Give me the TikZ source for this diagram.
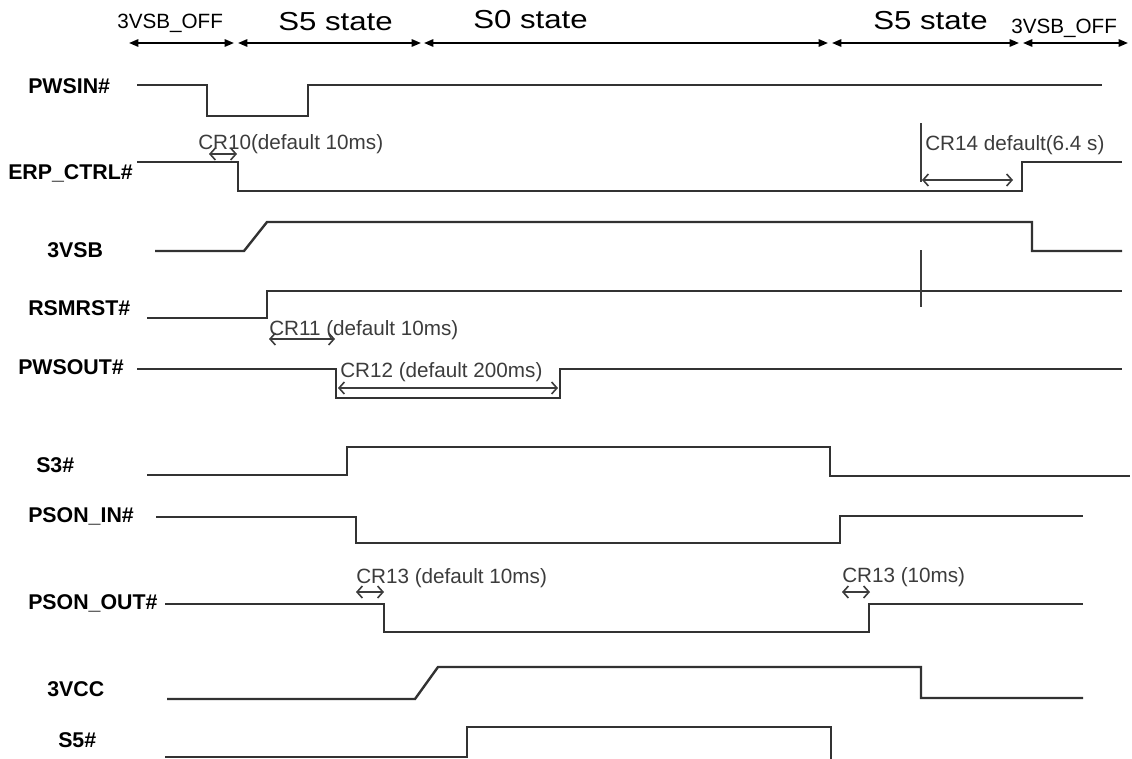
\documentclass[tikz,border=0pt]{standalone}
\usepackage{fontspec}
\setmainfont{Liberation Sans}
\usetikzlibrary{arrows.meta}
\definecolor{sig}{RGB}{50,50,50}
\definecolor{ann}{RGB}{60,60,60}
\begin{document}
\begin{tikzpicture}[x=0.75pt,y=-0.75pt,
  lbl/.style={font=\fontsize{16}{18}\selectfont\bfseries, inner sep=0, anchor=base west},
  hdr/.style={font=\fontsize{15.5}{17}\selectfont, inner sep=0, anchor=base west},
  statelbl/.style={font=\fontsize{19.5}{21}\selectfont, inner sep=0, anchor=base west},
  cr/.style={font=\fontsize{15.5}{17}\selectfont, text=ann, inner sep=0, anchor=base west},
  wave/.style={draw=sig, line width=1.8pt, line join=miter},
  span/.style={draw=black, line width=1.4pt, {Triangle[length=7pt,width=5.5pt]}-{Triangle[length=7pt,width=5.5pt]}},
  dim/.style={draw=ann, line width=1.2pt, {Straight Barb[length=4pt,width=9pt]}-{Straight Barb[length=4pt,width=9pt]}},
  mark line/.style={draw=ann, line width=1.4pt}]
\useasboundingbox (0,0) rectangle (1132,758);

% header
\node[hdr] (h1) at (117,28) {3VSB\_OFF};
\node[statelbl] (h2) at (278,30) {\scalebox{1.2}[1]{S5 state}};
\node[statelbl] (h3) at (473,28) {\scalebox{1.2}[1]{S0 state}};
\node[statelbl] (h4) at (873,29) {\scalebox{1.2}[1]{S5 state}};
\node[hdr] (h5) at (1011,33) {3VSB\_OFF};
\coordinate (a0) at (129,43);
\coordinate (a1) at (234,43);
\coordinate (a2) at (238,43);
\coordinate (a3) at (421,43);
\coordinate (a4) at (424,43);
\coordinate (a5) at (828,43);
\coordinate (a6) at (832,43);
\coordinate (a7) at (1019,43);
\coordinate (a8) at (1023,43);
\coordinate (a9) at (1128,43);
\draw[span] (a0) -- (a1);
\draw[span] (a2) -- (a3);
\draw[span] (a4) -- (a5);
\draw[span] (a6) -- (a7);
\draw[span] (a8) -- (a9);

% signal labels
\node[lbl] (l1) at (28,93) {PWSIN\#};
\node[lbl] (l2) at (8,179) {ERP\_CTRL\#};
\node[lbl] (l3) at (47,257) {3VSB};
\node[lbl] (l4) at (28,315) {RSMRST\#};
\node[lbl] (l5) at (18,374) {PWSOUT\#};
\node[lbl] (l6) at (36,472) {S3\#};
\node[lbl] (l7) at (28,522) {PSON\_IN\#};
\node[lbl] (l8) at (28,609) {PSON\_OUT\#};
\node[lbl] (l9) at (47,696) {3VCC};
\node[lbl] (l10) at (58,747) {S5\#};

% waveforms
\draw[wave] (137,85) -- (207,85) -- (207,116) -- (308,116) -- (308,85) -- (1102,85);
\draw[wave] (137,162) -- (238,162) -- (238,191) -- (1022,191) -- (1022,162) -- (1122,162);
\draw[wave] (155,251) -- (244,251) -- (267,222) -- (1032,222) -- (1032,251) -- (1122,251);
\draw[wave] (147,318) -- (267,318) -- (267,291) -- (1122,291);
\draw[wave] (137,369) -- (336,369) -- (336,398) -- (560,398) -- (560,369) -- (1122,369);
\draw[wave] (147,475) -- (347,475) -- (347,447) -- (830,447) -- (830,476) -- (1130,476);
\draw[wave] (156,517) -- (356,517) -- (356,543) -- (840,543) -- (840,516) -- (1083,516);
\draw[wave] (165,604) -- (384,604) -- (384,632) -- (869,632) -- (869,604) -- (1083,604);
\draw[wave] (167,699) -- (415,699) -- (438,667) -- (921,667) -- (921,698) -- (1083,698);
\draw[wave] (165,757) -- (467,757) -- (467,727) -- (831,727) -- (831,760);

% CR annotations
\node[cr] (c10) at (198,149) {CR10(default 10ms)};
\coordinate (c10a) at (209,154); \coordinate (c10b) at (237,154);
\draw[dim] (c10a) -- (c10b);

\node[cr] (c14) at (925,150) {CR14 default(6.4 s)};
\coordinate (v14a) at (921,123); \coordinate (v14b) at (921,182);
\draw[mark line] (v14a) -- (v14b);
\coordinate (c14a) at (922,180); \coordinate (c14b) at (1013,180);
\draw[dim] (c14a) -- (c14b);
\coordinate (t1) at (921,250); \coordinate (t2) at (921,307);
\draw[mark line] (t1) -- (t2);

\node[cr] (c11) at (269,335) {CR11 (default 10ms)};
\coordinate (c11a) at (269,339); \coordinate (c11b) at (335,339);
\draw[dim] (c11a) -- (c11b);

\node[cr] (c12) at (340,377) {CR12 (default 200ms)};
\coordinate (c12a) at (338,388); \coordinate (c12b) at (558,388);
\draw[dim] (c12a) -- (c12b);

\node[cr] (c13) at (356,583) {CR13 (default 10ms)};
\coordinate (c13a) at (356,592); \coordinate (c13b) at (384,592);
\draw[dim] (c13a) -- (c13b);

\node[cr] (c13r) at (842,582) {CR13 (10ms)};
\coordinate (c13c) at (842,592); \coordinate (c13d) at (870,592);
\draw[dim] (c13c) -- (c13d);
\end{tikzpicture}
\end{document}
